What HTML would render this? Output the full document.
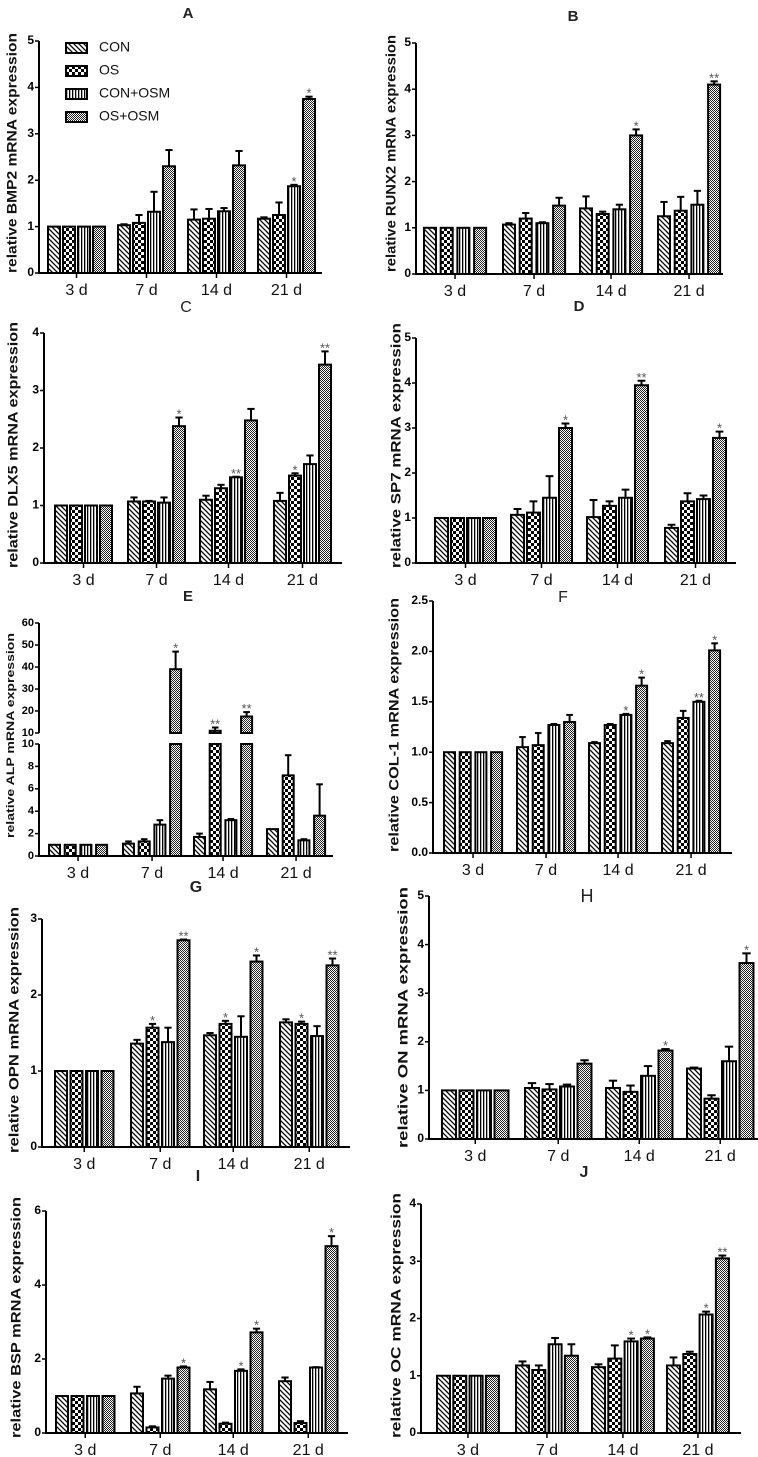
<!DOCTYPE html>
<html><head><meta charset="utf-8"><style>
html,body{margin:0;padding:0;background:#fff}
svg{display:block;font-family:"Liberation Sans",Arial,sans-serif}
</style></head><body>
<svg id="fig" width="758" height="1457" viewBox="0 0 758 1457">
<defs>
<pattern id="p0" patternUnits="userSpaceOnUse" width="5" height="5"><rect width="5" height="5" fill="#fff"/><path d="M-1,-1 L6,6 M-1,4 L1,6 M4,-1 L6,1" stroke="#000" stroke-width="1.3"/></pattern>
<pattern id="p1" patternUnits="userSpaceOnUse" width="6" height="6"><rect width="6" height="6" fill="#fff"/><rect width="3" height="3" fill="#000"/><rect x="3" y="3" width="3" height="3" fill="#000"/></pattern>
<pattern id="p2" patternUnits="userSpaceOnUse" width="3" height="3"><rect width="3" height="3" fill="#fff"/><rect width="1.3" height="3" fill="#000"/></pattern>
<pattern id="p3" patternUnits="userSpaceOnUse" width="2" height="2"><rect width="2" height="2" fill="#fff"/><rect width="1" height="1" fill="#222"/><rect x="1" y="1" width="1" height="1" fill="#222"/></pattern>
</defs>
</svg>
<script>
const categories = ['3 d','7 d','14 d','21 d'];
const seriesNames = ['CON','OS','CON+OSM','OS+OSM'];
// values per series [3d,7d,14d,21d]
const bmp2Values = [[1,1.03,1.15,1.17],[1,1.08,1.17,1.25],[1,1.32,1.33,1.87],[1,2.3,2.32,3.75]];
const bmp2Errors = [[0,0.02,0.22,0.03],[0,0.17,0.21,0.27],[0,0.43,0.07,0.03],[0,0.35,0.31,0.05]];
const bmp2Stars = [['','','',''],['','','',''],['','','','*'],['','','','*']];
const runx2Values = [[1,1.07,1.42,1.25],[1,1.2,1.3,1.37],[1,1.1,1.4,1.5],[1,1.48,3.0,4.1]];
const runx2Errors = [[0,0.03,0.26,0.31],[0,0.12,0.05,0.3],[0,0.02,0.1,0.3],[0,0.17,0.13,0.07]];
const runx2Stars = [['','','',''],['','','',''],['','','',''],['','','*','**']];
const dlx5Values = [[1,1.07,1.1,1.08],[1,1.07,1.3,1.52],[1,1.05,1.49,1.72],[1,2.38,2.48,3.45]];
const dlx5Errors = [[0,0.07,0.07,0.14],[0,0.01,0.06,0.04],[0,0.09,0.01,0.15],[0,0.15,0.2,0.23]];
const dlx5Stars = [['','','',''],['','','','*'],['','','**',''],['','*','','**']];
const sp7Values = [[1,1.07,1.02,0.78],[1,1.12,1.27,1.37],[1,1.45,1.45,1.42],[1,3.0,3.95,2.78]];
const sp7Errors = [[0,0.13,0.38,0.07],[0,0.25,0.1,0.18],[0,0.48,0.18,0.08],[0,0.1,0.1,0.14]];
const sp7Stars = [['','','',''],['','','',''],['','','',''],['','*','**','*']];
const alpValues = [[1,1.1,1.7,2.4],[1,1.3,11,7.2],[1,2.8,3.2,1.4],[1,39,17.5,3.6]];
const alpErrors = [[0,0.2,0.3,0],[0,0.2,1.5,1.8],[0,0.4,0.1,0.1],[0,8,2,2.8]];
const alpStars = [['','','',''],['','','**',''],['','','',''],['','*','**','']];
const col1Values = [[1,1.05,1.09,1.09],[1,1.07,1.27,1.34],[1,1.27,1.37,1.5],[1,1.3,1.66,2.01]];
const col1Errors = [[0,0.1,0.01,0.02],[0,0.12,0.01,0.07],[0,0.01,0.01,0.01],[0,0.07,0.08,0.07]];
const col1Stars = [['','','',''],['','','',''],['','','*','**'],['','','*','*']];
const opnValues = [[1,1.36,1.47,1.64],[1,1.57,1.62,1.62],[1,1.38,1.45,1.46],[1,2.72,2.44,2.39]];
const opnErrors = [[0,0.05,0.03,0.04],[0,0.05,0.04,0.03],[0,0.19,0.27,0.13],[0,0.01,0.08,0.09]];
const opnStars = [['','','',''],['','*','*','*'],['','','',''],['','**','*','**']];
const onValues = [[1,1.05,1.05,1.45],[1,1.02,0.97,0.83],[1,1.08,1.3,1.6],[1,1.55,1.82,3.62]];
const onErrors = [[0,0.1,0.15,0.02],[0,0.11,0.13,0.07],[0,0.04,0.2,0.3],[0,0.07,0.03,0.2]];
const onStars = [['','','',''],['','','',''],['','','',''],['','','*','*']];
const bspValues = [[1,1.07,1.18,1.4],[1,0.15,0.25,0.27],[1,1.47,1.68,1.77],[1,1.77,2.72,5.05]];
const bspErrors = [[0,0.18,0.2,0.1],[0,0.03,0.03,0.05],[0,0.08,0.04,0.01],[0,0.03,0.1,0.27]];
const bspStars = [['','','',''],['','','',''],['','','*',''],['','*','*','*']];
const ocValues = [[1,1.18,1.15,1.18],[1,1.1,1.3,1.38],[1,1.55,1.6,2.07],[1,1.35,1.65,3.05]];
const ocErrors = [[0,0.07,0.05,0.14],[0,0.08,0.23,0.04],[0,0.11,0.05,0.05],[0,0.2,0.02,0.05]];
const ocStars = [['','','',''],['','','',''],['','','*','*'],['','','*','**']];

const NS='http://www.w3.org/2000/svg';
const svg=document.getElementById('fig');
function el(tag,attrs,parent,txt){const e=document.createElementNS(NS,tag);for(const k in attrs)e.setAttribute(k,attrs[k]);if(txt!==undefined)e.textContent=txt;(parent||svg).appendChild(e);return e;}

const panels=[
 {id:'A',name:'bmp2',v:bmp2Values,e:bmp2Errors,s:bmp2Stars,yt:'relative BMP2 mRNA expression',ax:39,y0:273,ytop:41,xe:322,max:5,ticks:[0,1,2,3,4,5],g:[48,118,188,258],step:15,bw:12,tx:188,ty:14,tb:true,tfs:15,ytx:13,yta:33,ytb:273,legend:true},
 {id:'B',name:'runx2',v:runx2Values,e:runx2Errors,s:runx2Stars,yt:'relative RUNX2 mRNA expression',ax:416,y0:274,ytop:43,xe:723,max:5,ticks:[0,1,2,3,4,5],g:[424,503,580,658],step:16.7,bw:12,tx:573,ty:17,tb:true,tfs:15,ytx:392,yta:35,ytb:272},
 {id:'C',name:'dlx5',v:dlx5Values,e:dlx5Errors,s:dlx5Stars,yt:'relative DLX5 mRNA expression',ax:44,y0:563,ytop:333,xe:342,max:4,ticks:[0,1,2,3,4],g:[55,128,200,274],step:15,bw:12,tx:186,ty:308,tb:false,tfs:16,ytx:14,yta:322,ytb:568},
 {id:'D',name:'sp7',v:sp7Values,e:sp7Errors,s:sp7Stars,yt:'relative SP7 mRNA expression',ax:416,y0:563,ytop:338,xe:736,max:5,ticks:[0,1,2,3,4,5],g:[435,511,587,665],step:16,bw:13,tx:579,ty:307,tb:true,tfs:15,ytx:397,yta:323,ytb:568},
 {id:'E',name:'alp',v:alpValues,e:alpErrors,s:alpStars,yt:'relative ALP mRNA expression',ax:39,y0:856,ytop:623,lowTop:744,upBot:733,broken:true,xe:333,max:60,g:[49,123,194,267],step:15.7,bw:11,tx:188,ty:597,tb:true,tfs:15,ytx:11,yta:633,ytb:838,ytfs:11},
 {id:'F',name:'col1',v:col1Values,e:col1Errors,s:col1Stars,yt:'relative COL-1 mRNA expression',ax:433,y0:853,ytop:601,xe:732,max:2.5,ticks:[0,0.5,1,1.5,2,2.5],dec:1,g:[444,517,589,662],step:15.7,bw:11,tx:563,ty:598,tb:false,tfs:16,ytx:395,yta:598,ytb:852},
 {id:'G',name:'opn',v:opnValues,e:opnErrors,s:opnStars,yt:'relative OPN mRNA expression',ax:42,y0:1147,ytop:919,xe:350,max:3,ticks:[0,1,2,3],g:[55,131,204,280],step:15.5,bw:12,tx:196,ty:888,tb:true,tfs:16,ytx:15,yta:907,ytb:1153},
 {id:'H',name:'on',v:onValues,e:onErrors,s:onStars,yt:'relative ON mRNA expression',ax:429,y0:1139,ytop:896,xe:758,max:5,ticks:[0,1,2,3,4,5],g:[442,525,606,687],step:17.5,bw:14,tx:587,ty:897,tb:false,tfs:18,ytx:404,yta:887,ytb:1148},
 {id:'I',name:'bsp',v:bspValues,e:bspErrors,s:bspStars,yt:'relative BSP mRNA expression',ax:46,y0:1433,ytop:1211,xe:348,max:6,ticks:[0,2,4,6],g:[56,131,204,279],step:15.5,bw:12,tx:198,ty:1177,tb:true,tfs:16,ytx:17,yta:1197,ytb:1438},
 {id:'J',name:'oc',v:ocValues,e:ocErrors,s:ocStars,yt:'relative OC mRNA expression',ax:421,y0:1433,ytop:1204,xe:741,max:4,ticks:[0,1,2,3,4],g:[437,516,592,667],step:16.3,bw:13,tx:584,ty:1173,tb:true,tfs:16,ytx:397,yta:1193,ytb:1438}
];

function scaleFor(p){
  if(p.broken){
    return v=> v<=10 ? p.y0-(v/10)*(p.y0-p.lowTop) : p.upBot-((v-10)/50)*(p.upBot-p.ytop);
  }
  return v=> p.y0-(v/p.max)*(p.y0-p.ytop);
}

panels.forEach(p=>{
  const G=el('g',{},svg);
  
  
  const y=scaleFor(p);
  const t=el('text',{x:p.tx,y:p.ty,'text-anchor':'middle','dominant-baseline':'middle','font-size':p.tfs,'font-weight':p.tb?'bold':'normal',fill:'#222'},G,p.id);
  
  
  const cy=(p.yta+p.ytb)/2;
  const yt=el('text',{x:p.ytx,y:cy,'text-anchor':'middle','dominant-baseline':'middle','font-size':p.ytfs||14,'font-weight':'bold',transform:`rotate(-90 ${p.ytx} ${cy})`,textLength:p.ytb-p.yta,lengthAdjust:'spacingAndGlyphs',fill:'#111'},G,p.yt);
  
  
  if(p.broken){
    el('line',{x1:p.ax,y1:p.y0,x2:p.ax,y2:p.lowTop,stroke:'#000','stroke-width':2},G);
    el('line',{x1:p.ax,y1:p.upBot,x2:p.ax,y2:p.ytop,stroke:'#000','stroke-width':2},G);
    const low=[0,2,4,6,8,10], up=[10,20,30,40,50,60];
    low.forEach(v=>{const yy=p.y0-(v/10)*(p.y0-p.lowTop);el('line',{x1:p.ax-4,y1:yy,x2:p.ax,y2:yy,stroke:'#000','stroke-width':1.5},G);el('text',{x:p.ax-5,y:yy,'text-anchor':'end','dominant-baseline':'middle','font-size':11,'font-weight':'bold'},G,String(v));});
    up.forEach(v=>{const yv=v===10?p.upBot:y(v);el('line',{x1:p.ax-4,y1:yv,x2:p.ax,y2:yv,stroke:'#000','stroke-width':1.5},G);el('text',{x:p.ax-5,y:yv,'text-anchor':'end','dominant-baseline':'middle','font-size':11,'font-weight':'bold'},G,String(v));});
  } else {
    el('line',{x1:p.ax,y1:p.y0,x2:p.ax,y2:p.ytop,stroke:'#000','stroke-width':2},G);
    p.ticks.forEach(v=>{const yy=y(v);el('line',{x1:p.ax-4,y1:yy,x2:p.ax,y2:yy,stroke:'#000','stroke-width':1.5},G);
      const tl=el('text',{x:p.ax-5,y:yy,'text-anchor':'end','dominant-baseline':'middle','font-size':12,'font-weight':'bold'},G,p.dec?v.toFixed(p.dec):String(v));
      
      });
  }
  el('line',{x1:p.ax-1,y1:p.y0,x2:p.xe,y2:p.y0,stroke:'#000','stroke-width':2},G);
  categories.forEach((c,gi)=>{
    const cx=p.g[gi]+(3*p.step+p.bw)/2;
    el('line',{x1:cx,y1:p.y0,x2:cx,y2:p.y0+5,stroke:'#000','stroke-width':1.5},G);
    const cl=el('text',{x:cx,y:p.y0+22,'text-anchor':'middle','font-size':16,fill:'#111'},G,c);
    
    
    for(let si=0;si<4;si++){
      const val=p.v[si][gi], err=p.e[si][gi];
      const bx=p.g[gi]+si*p.step;
      const top=y(val);
      if(err>0){
        const et=y(val+err), mx=bx+p.bw/2;
        el('line',{x1:mx,y1:top,x2:mx,y2:et,stroke:'#000','stroke-width':2},G);
        el('line',{x1:mx-p.bw*0.3,y1:et,x2:mx+p.bw*0.3,y2:et,stroke:'#000','stroke-width':2},G);
      }
      let r;
      if(p.broken && val>10){
        el('rect',{x:bx,y:p.lowTop,width:p.bw,height:p.y0-p.lowTop,fill:`url(#p${si})`,stroke:'#000','stroke-width':2},G);
        r=el('rect',{x:bx,y:top,width:p.bw,height:p.upBot-top,fill:`url(#p${si})`,stroke:'#000','stroke-width':2},G);
      } else {
        r=el('rect',{x:bx,y:top,width:p.bw,height:p.y0-top,fill:`url(#p${si})`,stroke:'#000','stroke-width':2},G);
      }
      
      
      const st=p.s[si][gi];
      if(st){
        const sy=y(val+err)-3;
        const s=el('text',{x:bx+p.bw/2,y:sy+4,'text-anchor':'middle','font-size':13,fill:'#555'},G,st);
        
        
      }
    }
  });
  if(p.legend){
    const L=el('g',{},G);
    
    
    seriesNames.forEach((n,i)=>{
      const ly=43+i*23;
      const sw=el('rect',{x:66,y:ly,width:21,height:10,fill:`url(#p${i})`,stroke:'#000','stroke-width':2},L);
      
      
      const lt=el('text',{x:99,y:ly+5,'dominant-baseline':'middle','font-size':14,fill:'#111'},L,n);
      
      
    });
  }
});
</script>
</body></html>
